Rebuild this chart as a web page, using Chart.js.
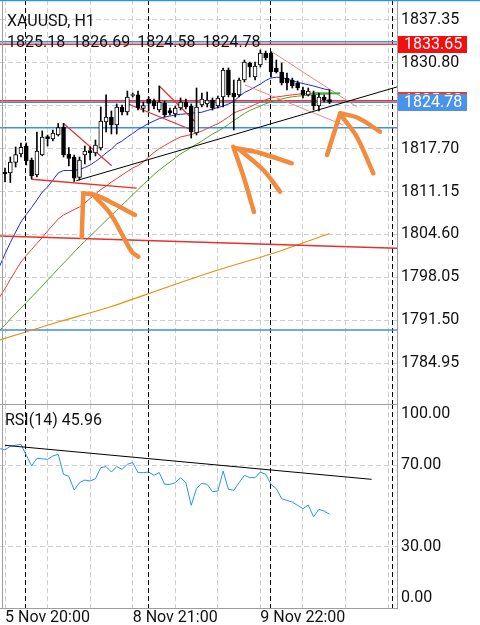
<!DOCTYPE html>
<html><head><meta charset="utf-8">
<script src="https://cdn.jsdelivr.net/npm/chart.js@4.4.0/dist/chart.umd.min.js"></script>
<style>
html,body{margin:0;padding:0;background:#fff;overflow:hidden}
#wrap{position:relative;width:480px;height:625px;background:#fff}
canvas{position:absolute;left:0}
#c1{top:0;width:480px;height:404px}
#c2{top:404px;width:480px;height:221px}
</style></head><body>
<div id="wrap"><canvas id="c1" width="480" height="404"></canvas><canvas id="c2" width="480" height="221"></canvas></div>
<script>
// ---------- data ----------
const symbolTitle = 'XAUUSD, H1';
const ohlcHeader = ['1825.18', '1826.69', '1824.58', '1824.78'];
const timeTickIdx = [0, 24, 48];
const timeTickLabels = ['5 Nov 20:00', '8 Nov 21:00', '9 Nov 22:00'];
const gridIdx = [0, 8, 16, 24, 32, 40, 48, 56, 64, 72];
const daySeparators = [4, 27, 50, 73];
const priceTicks = [1837.35, 1830.80, 1824.25, 1817.70, 1811.15, 1804.60, 1798.05, 1791.50, 1784.95];
const rsiTicks = [0, 30, 70, 100];

const opens  = [1814.13,1813.98,1815.58,1816.88,1818.10,1815.96,1813.67,1816.73,1819.55,1819.17,1819.78,1821.00,1816.83,1816.42,1813.29,1816.73,1817.41,1817.03,1817.80,1821.77,1822.53,1821.31,1824.06,1823.29,1825.82,1825.90,1823.83,1825.28,1824.98,1823.60,1824.67,1823.52,1822.99,1823.91,1824.82,1824.21,1820.09,1824.37,1824.52,1825.13,1824.21,1825.59,1829.71,1826.20,1825.90,1828.18,1830.78,1828.64,1830.48,1832.31,1832.31,1830.02,1829.41,1828.49,1828.18,1827.73,1826.66,1825.90,1825.90,1824.21,1825.59,1825.18];
const highs  = [1814.74,1816.42,1817.95,1818.56,1818.56,1816.27,1820.24,1820.40,1819.78,1820.55,1821.54,1821.54,1817.87,1816.73,1816.42,1818.10,1817.95,1819.02,1824.06,1825.90,1823.45,1824.52,1824.37,1826.50,1826.20,1826.50,1824.82,1825.59,1825.28,1827.27,1824.98,1823.91,1824.21,1825.44,1825.28,1824.52,1826.96,1826.20,1826.35,1825.44,1825.74,1830.02,1830.02,1828.18,1828.49,1831.24,1830.93,1830.93,1832.77,1832.61,1832.51,1831.24,1830.78,1829.25,1828.49,1828.03,1827.11,1826.96,1826.50,1826.20,1825.90,1826.69];
const lows   = [1812.60,1812.52,1814.89,1816.42,1815.20,1813.06,1813.37,1816.60,1818.10,1818.87,1819.63,1816.42,1815.05,1812.68,1812.91,1815.35,1815.96,1816.57,1817.49,1820.24,1819.93,1819.93,1822.84,1822.84,1825.59,1823.60,1823.29,1823.45,1823.75,1823.29,1822.53,1822.84,1822.53,1823.60,1823.75,1819.32,1819.78,1824.06,1824.06,1823.60,1823.91,1824.06,1825.59,1820.55,1825.59,1827.88,1828.64,1828.18,1830.17,1831.24,1828.64,1829.25,1827.42,1826.66,1826.96,1826.66,1825.44,1825.74,1823.60,1823.45,1824.82,1824.58];
const closes = [1813.82,1815.66,1816.80,1817.90,1815.81,1813.52,1817.34,1819.48,1819.17,1820.09,1820.93,1816.73,1816.22,1813.17,1815.96,1817.34,1817.03,1818.25,1821.92,1822.53,1821.31,1824.06,1823.29,1825.59,1825.90,1823.91,1824.29,1824.59,1824.21,1824.82,1822.84,1823.14,1823.91,1824.82,1824.06,1820.24,1824.06,1825.28,1825.13,1823.91,1825.44,1829.71,1825.90,1825.59,1828.18,1830.93,1830.17,1830.32,1832.31,1831.54,1829.41,1829.41,1827.73,1827.73,1827.27,1826.96,1825.90,1826.50,1824.21,1825.59,1825.13,1824.78];

// moving averages, bar index -1 .. 61
const maFast = [1799.77,1801.60,1803.36,1804.96,1806.49,1807.64,1808.71,1809.85,1811.07,1811.84,1812.91,1813.98,1814.36,1814.36,1814.36,1814.51,1814.82,1815.20,1815.73,1816.34,1817.03,1817.64,1818.41,1818.86,1819.48,1820.01,1820.62,1821.08,1821.54,1821.92,1822.30,1822.53,1822.68,1822.84,1822.94,1823.02,1823.11,1823.19,1823.26,1823.52,1823.75,1823.98,1824.21,1824.52,1824.90,1825.66,1826.27,1826.66,1827.11,1827.57,1828.11,1828.49,1828.60,1828.57,1828.34,1828.08,1827.83,1827.65,1827.47,1827.27,1827.04,1826.81,1826.66];
const maMid  = [1795.03,1796.33,1797.71,1799.08,1800.38,1801.37,1802.29,1803.21,1804.12,1805.12,1806.03,1806.95,1807.56,1807.97,1808.40,1808.78,1809.39,1810.08,1810.77,1811.46,1811.99,1812.60,1813.14,1813.67,1814.21,1814.74,1815.12,1815.66,1816.42,1817.11,1817.72,1818.18,1818.64,1819.09,1819.48,1819.66,1819.86,1820.09,1820.39,1820.77,1821.16,1821.49,1822.00,1822.53,1823.14,1823.48,1823.75,1824.06,1824.44,1824.82,1825.16,1825.43,1825.59,1825.69,1825.82,1825.92,1826.01,1826.09,1826.15,1826.17,1826.15,1826.11,1826.05];
const maSlow = [1789.95,1790.75,1791.67,1792.51,1793.35,1794.19,1795.03,1795.87,1796.71,1797.63,1798.47,1799.36,1800.20,1801.04,1801.91,1802.75,1803.54,1804.32,1805.12,1805.93,1806.72,1807.51,1808.29,1809.09,1809.85,1810.65,1811.46,1812.22,1812.98,1813.75,1814.43,1815.05,1815.66,1816.27,1816.91,1817.37,1817.87,1818.38,1818.86,1819.40,1819.93,1820.35,1820.85,1821.39,1822.00,1822.53,1823.07,1823.52,1823.88,1824.21,1824.55,1824.85,1825.08,1825.28,1825.48,1825.62,1825.71,1825.79,1825.86,1825.92,1825.98,1826.05,1826.11];
const maLongIdx = [-1, 10, 20, 30, 40, 50, 61];
const maLong    = [1788.46, 1791.21, 1793.58, 1796.41, 1799.16, 1801.60, 1804.73];

const rsiValues = [78.13,77.55,79.26,79.75,80.25,74.85,69.69,73.37,73.13,72.88,74.50,75.34,65.52,64.54,57.82,61.45,62.72,62.23,63.41,68.81,69.30,66.65,69.30,67.98,70.43,71.26,66.36,66.36,66.65,65.03,66.36,60.61,60.61,61.45,63.90,61.45,50.31,58.65,61.10,60.61,57.03,57.32,67.14,58.16,57.67,61.45,65.03,63.90,63.90,66.65,65.52,60.61,58.50,53.59,52.76,51.92,50.31,48.69,50.45,44.76,48.34,47.51,45.96];
const rsiTrendIdx = [0, 68.9];
const rsiTrendVal = [79.75, 63.07];

// horizontal levels and price tags
const hLineValues = [1834.03, 1833.65, 1825.02, 1824.78, 1820.90, 1790.00];
const tagValues = [1825.02, 1824.78, 1833.65];

// drawn trend lines (bar index, price)
const trendIdx   = [[13.4, 74], [5.0, 24.75], [10.96, 20.06], [23.18, 35.1], [29.0, 36.03], [50.13, 66.1], [45.1, 63.6], [-1, 74]];
const trendPrice = [[1812.80, 1827.20], [1813.02, 1811.68], [1821.57, 1815.09], [1824.52, 1820.55], [1827.27, 1821.57], [1832.51, 1824.10], [1827.42, 1821.31], [1804.36, 1802.46]];
const greenSegIdx = [57.7, 63];
const greenSegPrice = [1826.15, 1826.15];

// hand-drawn orange arrows (bar index, price)
const arrowIdx = [[14.42, 14.72], [14.72, 16.92, 19.74, 24.44], [16.92, 19.74, 22.24, 23.82, 25.06],
  [42.91, 44.74, 46.8], [43.23, 47.93, 53.89], [44.17, 48.55, 51.69],
  [60.53, 62.97], [62.97, 66.35, 70.49], [63.35, 66.11, 69.23]];
const arrowPrice = [[1804.24, 1810.88], [1810.88, 1810.62, 1809.59, 1807.56], [1810.36, 1807.82, 1804.24, 1801.95, 1801.19],
  [1817.99, 1813.67, 1808.02], [1817.80, 1817.03, 1815.46], [1817.49, 1814.43, 1811.12],
  [1816.73, 1822.99], [1823.10, 1822.38, 1820.29], [1822.58, 1819.52, 1813.93]];

// ---------- styles / layout ----------
const X_MIN = -0.94, X_MAX = 73.68;
const Y_MIN = 1778.69, Y_MAX = 1840.405;
const GRID = '#cfcfcf';
const FRAME = '#9e9e9e';
const TEXT = '#111111';
const hLineColors = ['#3b8ff0', '#f0352b', '#f0352b', '#3b8ff0', '#3b8ff0', '#3b8ff0'];
const tagColors = ['#f0352b', '#4a93ea', '#f20f0f'];
const trendColors = ['#000000', '#e8302a', '#e8302a', '#e8302a', '#e8302a', '#f3867f', '#f3867f', '#e8302a'];
const trendWidths = [1, 1.3, 1.2, 1.2, 1.2, 1, 1, 1.5];
const ORANGE = '#f28b3d';

Chart.defaults.font.family = 'Roboto';
Chart.defaults.font.size = 16;

const bars = opens.map((_, i) => i);
const pts = (xs, ys) => xs.map((x, k) => ({x, y: ys[k]}));

const datasets = [];
arrowIdx.forEach((xs, k) => datasets.push({type: 'line', data: pts(xs, arrowPrice[k]), borderColor: ORANGE,
  borderWidth: 4.5, pointRadius: 0, tension: 0.35, borderCapStyle: 'round', borderJoinStyle: 'round', order: 0}));
datasets.push({type: 'bar', data: bars.map(i => ({x: i, y: [opens[i], closes[i]]})),
  backgroundColor: bars.map(i => closes[i] >= opens[i] ? '#ffffff' : '#000000'),
  borderColor: '#000000', borderWidth: 1, borderSkipped: false, barThickness: 4, grouped: false, minBarLength: 1, order: 1});
datasets.push({type: 'bar', data: bars.map(i => ({x: i, y: [lows[i], highs[i]]})),
  backgroundColor: '#000000', borderWidth: 0, barThickness: 1, grouped: false, order: 2});
datasets.push({type: 'line', data: pts(greenSegIdx, greenSegPrice), borderColor: '#3cb43c', borderWidth: 2, pointRadius: 0, order: 3});
trendIdx.forEach((xs, k) => datasets.push({type: 'line', data: pts(xs, trendPrice[k]), borderColor: trendColors[k],
  borderWidth: trendWidths[k], pointRadius: 0, order: 3}));
const maIdx = maFast.map((_, k) => k - 1);
datasets.push({type: 'line', data: pts(maIdx, maFast), borderColor: '#2424e8', borderWidth: 1, pointRadius: 0, order: 4});
datasets.push({type: 'line', data: pts(maIdx, maMid), borderColor: '#f2382e', borderWidth: 1, pointRadius: 0, order: 4});
datasets.push({type: 'line', data: pts(maIdx, maSlow), borderColor: '#56a01c', borderWidth: 1, pointRadius: 0, order: 4});
datasets.push({type: 'line', data: pts(maLongIdx, maLong), borderColor: '#e8900f', borderWidth: 1.2, pointRadius: 0, tension: 0.3, order: 4});
hLineValues.forEach((v, k) => datasets.push({type: 'line', data: [{x: X_MIN - 2, y: v}, {x: X_MAX + 2, y: v}],
  borderColor: hLineColors[k], borderWidth: 1.4, pointRadius: 0, order: 5}));

function drawSeparators(chart) {
  const {ctx, chartArea: a, scales: {x}} = chart;
  ctx.save();
  ctx.strokeStyle = '#000'; ctx.lineWidth = 1; ctx.setLineDash([5, 3]);
  daySeparators.forEach(d => {
    const px = Math.round(x.getPixelForValue(d - 0.2)) + 0.5;
    ctx.beginPath(); ctx.moveTo(px, a.top); ctx.lineTo(px, a.bottom); ctx.stroke();
  });
  ctx.restore();
}

const priceDecor = {
  id: 'priceDecor',
  beforeDatasetsDraw(chart) { drawSeparators(chart); },
  afterDraw(chart) {
    const {ctx, chartArea: a, scales: {y}} = chart;
    ctx.save();
    ctx.strokeStyle = FRAME; ctx.lineWidth = 1;
    ctx.beginPath(); ctx.moveTo(2.5, a.top); ctx.lineTo(2.5, a.bottom); ctx.stroke();
    ctx.fillStyle = '#2196f3'; ctx.fillRect(0, 0, chart.width, 1.2);
    ctx.fillStyle = TEXT; ctx.font = '16px Roboto'; ctx.textAlign = 'left'; ctx.textBaseline = 'alphabetic';
    ctx.fillText(symbolTitle, 7, 26);
    if ('wordSpacing' in ctx) ctx.wordSpacing = '3px';
    ctx.fillText(ohlcHeader.join(' '), 7, 46.5);
    if ('wordSpacing' in ctx) ctx.wordSpacing = '0px';
    ctx.textBaseline = 'middle';
    tagValues.forEach((v, k) => {
      const py = y.getPixelForValue(v);
      ctx.fillStyle = tagColors[k];
      ctx.fillRect(a.right + 1, Math.round(py - 8.5), 69, 17);
      ctx.fillStyle = '#ffffff';
      ctx.fillText(v.toFixed(2), a.right + 7, py + 0.5);
    });
    ctx.restore();
  }
};

new Chart(document.getElementById('c1'), {
  type: 'line',
  data: {datasets},
  options: {
    responsive: false, animation: false, events: [],
    layout: {padding: 0},
    plugins: {legend: {display: false}, tooltip: {enabled: false}},
    scales: {
      x: {type: 'linear', min: X_MIN, max: X_MAX, offset: false,
        afterBuildTicks: s => { s.ticks = gridIdx.map(v => ({value: v})); },
        afterFit: s => { s.height = 0; s.paddingLeft = 0; s.paddingRight = 0; },
        ticks: {display: false},
        grid: {color: GRID, drawTicks: false, offset: false},
        border: {display: false, dash: [5, 3]}},
      y: {type: 'linear', position: 'right', min: Y_MIN, max: Y_MAX, beginAtZero: false,
        afterBuildTicks: s => { s.ticks = priceTicks.map(v => ({value: v})); },
        afterFit: s => { s.width = 83; s.paddingTop = 0; s.paddingBottom = 0; },
        ticks: {autoSkip: false, padding: 4, color: TEXT, font: {size: 16}, callback: v => Number(v).toFixed(2)},
        grid: {color: GRID, drawTicks: false},
        border: {display: true, color: FRAME, dash: [5, 3]}}
    }
  },
  plugins: [priceDecor]
});

const rsiDecor = {
  id: 'rsiDecor',
  beforeDatasetsDraw(chart) { drawSeparators(chart); },
  afterDraw(chart) {
    const {ctx, chartArea: a} = chart;
    ctx.save();
    ctx.strokeStyle = FRAME; ctx.lineWidth = 1;
    ctx.beginPath(); ctx.moveTo(0, 0.5); ctx.lineTo(a.right, 0.5); ctx.stroke();
    ctx.beginPath(); ctx.moveTo(2.5, a.top); ctx.lineTo(2.5, a.bottom); ctx.stroke();
    ctx.fillStyle = TEXT; ctx.font = '16px Roboto'; ctx.textAlign = 'left'; ctx.textBaseline = 'alphabetic';
    ctx.fillText('RSI(14) ' + rsiValues[rsiValues.length - 1].toFixed(2), 5, 20.5);
    ctx.restore();
  }
};

new Chart(document.getElementById('c2'), {
  type: 'line',
  data: {datasets: [
    {data: pts(rsiTrendIdx, rsiTrendVal), borderColor: '#000000', borderWidth: 1, pointRadius: 0, order: 0},
    {data: pts(rsiValues.map((_, k) => k - 1), rsiValues), borderColor: '#2196f3', borderWidth: 1, pointRadius: 0, order: 1}
  ]},
  options: {
    responsive: false, animation: false, events: [],
    layout: {padding: 0},
    plugins: {legend: {display: false}, tooltip: {enabled: false}},
    scales: {
      x: {type: 'linear', min: X_MIN, max: X_MAX, offset: false,
        afterBuildTicks: s => { s.ticks = gridIdx.map(v => ({value: v})); },
        afterFit: s => { s.height = 17; s.paddingLeft = 0; s.paddingRight = 0; },
        ticks: {autoSkip: false, maxRotation: 0, minRotation: 0, align: 'start', padding: 0, color: TEXT, font: {size: 16},
          callback: v => { const k = timeTickIdx.indexOf(v); return k >= 0 ? timeTickLabels[k] : ''; }},
        grid: {color: GRID, drawTicks: false, offset: false},
        border: {display: true, color: FRAME, dash: [5, 3]}},
      y: {type: 'linear', position: 'right', min: 0, max: 100,
        afterBuildTicks: s => { s.ticks = rsiTicks.map(v => ({value: v})); },
        afterFit: s => { s.width = 83; s.paddingTop = 0; s.paddingBottom = 0; },
        ticks: {autoSkip: false, padding: 4, color: TEXT, font: {size: 16},
          callback: v => v === 100 ? ['', '100.00'] : (v === 0 ? ['0.00', ''] : Number(v).toFixed(2))},
        grid: {color: c => (c.tick && (c.tick.value === 0 || c.tick.value === 100)) ? 'rgba(0,0,0,0)' : GRID, drawTicks: false},
        border: {display: true, color: FRAME, dash: [5, 3]}}
    }
  },
  plugins: [rsiDecor]
});
</script>
</body></html>
